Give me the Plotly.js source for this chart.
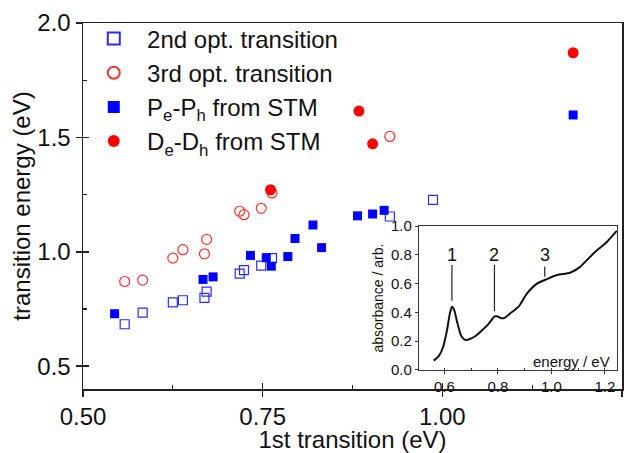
<!DOCTYPE html>
<html>
<head>
<meta charset="utf-8">
<script src="https://cdn.plot.ly/plotly-3.0.1.min.js"></script>
<style>html,body{margin:0;padding:0;background:#fff;}</style>
</head>
<body>
<div id="chart" style="width:641px;height:453px;"></div>
<script>
// ---- main panel data (eV) ----
const opt2X = [0.558,0.583,0.625,0.639,0.669,0.672,0.718,0.724,0.748,0.763,0.927,0.987];
const opt2Y = [0.683,0.734,0.779,0.788,0.798,0.826,0.904,0.920,0.939,0.972,1.154,1.227];
const opt3X = [0.558,0.583,0.625,0.639,0.669,0.672,0.718,0.724,0.748,0.763,0.927];
const opt3Y = [0.870,0.876,0.972,1.009,0.991,1.054,1.177,1.162,1.190,1.257,1.504];
const stmPX = [0.544,0.667,0.681,0.733,0.755,0.762,0.785,0.795,0.820,0.832,0.882,0.903,0.919,1.182];
const stmPY = [0.729,0.879,0.890,0.984,0.974,0.937,0.979,1.058,1.117,1.018,1.157,1.165,1.181,1.598];
const stmDX = [0.761,0.884,0.903,1.182];
const stmDY = [1.271,1.615,1.472,1.870];
const seriesNames = ['2nd opt. transition','3rd opt. transition','P<sub>e</sub>-P<sub>h</sub> from STM','D<sub>e</sub>-D<sub>h</sub> from STM'];

// ---- inset data ----
const insetE = [0.560,0.580,0.595,0.610,0.620,0.628,0.636,0.648,0.662,0.678,0.695,0.716,0.740,0.760,0.775,0.787,0.800,0.812,0.825,0.846,0.877,0.909,0.946,0.983,1.021,1.070,1.107,1.157,1.207,1.244];
const insetA = [0.065,0.10,0.16,0.28,0.39,0.44,0.42,0.33,0.24,0.208,0.215,0.236,0.275,0.31,0.345,0.372,0.372,0.360,0.362,0.394,0.44,0.532,0.60,0.632,0.66,0.676,0.717,0.81,0.89,0.967];
const peakLabels = ['1','2','3'];
const peakE = [0.628,0.787,0.975];
const peakTop = [0.729,0.729,0.72];
const peakBottom = [0.481,0.41,0.648];
const peakTextY = 0.80;

const FONT = 'Liberation Sans, Arial, Helvetica, sans-serif';
const nb = '\u00a0\u00a0';

const traces = [
  {x: opt2X, y: opt2Y, name: nb + seriesNames[0], type: 'scatter', mode: 'markers',
   marker: {symbol: 'square-open', size: 9, color: '#2a2aff', line: {width: 1.2, color: '#2a2aff'}}},
  {x: opt3X, y: opt3Y, name: nb + seriesNames[1], type: 'scatter', mode: 'markers',
   marker: {symbol: 'circle-open', size: 10, color: '#ff3030', line: {width: 1.2, color: '#ff3030'}}},
  {x: stmPX, y: stmPY, name: nb + seriesNames[2], type: 'scatter', mode: 'markers',
   marker: {symbol: 'square', size: 9, color: '#0000ff'}},
  {x: stmDX, y: stmDY, name: nb + seriesNames[3], type: 'scatter', mode: 'markers',
   marker: {symbol: 'circle', size: 11, color: '#ff0000'}},
  {x: [null], y: [null], xaxis: 'x2', yaxis: 'y2', showlegend: false, hoverinfo: 'skip', mode: 'markers'},
  {x: insetE, y: insetA, xaxis: 'x3', yaxis: 'y3', type: 'scatter', mode: 'lines', showlegend: false,
   line: {color: '#111', width: 2, shape: 'spline', smoothing: 0.6}}
];

const shapes = peakE.map((e, i) => ({
  type: 'line', xref: 'x3', yref: 'y3', x0: e, x1: e, y0: peakBottom[i], y1: peakTop[i],
  line: {color: '#222', width: 1.2}
}));

const annotations = peakE.map((e, i) => ({
  xref: 'x3', yref: 'y3', x: e, y: peakTextY, text: peakLabels[i], showarrow: false,
  font: {family: FONT, size: 18, color: '#111'}, xanchor: 'center', yanchor: 'middle'
}));
annotations.push({xref: 'x3', yref: 'y3', x: 1.225, y: 0.06, text: 'energy / eV', showarrow: false,
  xanchor: 'right', yanchor: 'middle', font: {family: FONT, size: 15, color: '#111'}});

const axCommon = {showgrid: false, zeroline: false, showline: true, linecolor: '#222', linewidth: 1.5,
  mirror: true, tickcolor: '#222', tickwidth: 1.5};

const layout = {
  width: 641, height: 453,
  margin: {l: 83, r: 19, t: 23, b: 64},
  paper_bgcolor: '#fff', plot_bgcolor: '#fff',
  font: {family: FONT, color: '#111'},
  showlegend: true,
  legend: {x: 0.02, y: 1.018, xanchor: 'left', yanchor: 'top', font: {family: FONT, size: 24, color: '#111'},
    bgcolor: 'rgba(0,0,0,0)', borderwidth: 0, tracegroupgap: 0, itemsizing: 'constant'},
  xaxis: Object.assign({}, axCommon, {range: [0.5, 1.25], tick0: 0.5, dtick: 0.25, tickformat: '.2f',
    ticks: 'outside', ticklen: 6, tickfont: {family: FONT, size: 24, color: '#111'},
    title: {text: '1st transition (eV)', font: {family: FONT, size: 24, color: '#111'}, standoff: 4}}),
  yaxis: Object.assign({}, axCommon, {range: [0.4, 2.0], tick0: 0.5, dtick: 0.5, tickformat: '.1f',
    ticks: 'outside', ticklen: 6, tickfont: {family: FONT, size: 24, color: '#111'},
    title: {text: 'transition energy (eV)', font: {family: FONT, size: 24, color: '#111'}, standoff: 0}}),
  xaxis2: {overlaying: 'x', anchor: 'y', range: [0.5, 1.25], tick0: 0.5, dtick: 0.25, ticks: 'inside', ticklen: 6,
    tickwidth: 1.5, tickcolor: '#222', showticklabels: false, showgrid: false, zeroline: false, showline: false,
    minor: {ticks: 'inside', ticklen: 4, tickwidth: 1.2, tickcolor: '#222', tick0: 0.5, dtick: 0.125, showgrid: false}},
  yaxis2: {overlaying: 'y', anchor: 'x', side: 'left', range: [0.4, 2.0], tick0: 0.5, dtick: 0.5, ticks: 'inside', ticklen: 6,
    tickwidth: 1.5, tickcolor: '#222', showticklabels: false, showgrid: false, zeroline: false, showline: false,
    minor: {ticks: 'inside', ticklen: 4, tickwidth: 1.2, tickcolor: '#222', tick0: 0.5, dtick: 0.25, showgrid: false}},
  xaxis3: {domain: [0.6234, 0.9907], anchor: 'y3', range: [0.505, 1.245], tick0: 0.6, dtick: 0.2, tickformat: '.1f',
    showgrid: false, zeroline: false, showline: true, mirror: true, linecolor: '#333', linewidth: 1.2,
    ticks: 'outside', ticklen: 3, tickwidth: 1, tickcolor: '#333', tickfont: {family: FONT, size: 15, color: '#111'},
    minor: {ticks: 'inside', ticklen: 2, tick0: 0.6, dtick: 0.1, tickcolor: '#333', showgrid: false}},
  yaxis3: {domain: [0.052, 0.445], anchor: 'x3', range: [0, 1], tick0: 0, dtick: 0.2, tickformat: '.1f',
    showgrid: false, zeroline: false, showline: true, mirror: true, linecolor: '#333', linewidth: 1.2,
    ticks: 'outside', ticklen: 3, tickwidth: 1, tickcolor: '#333', tickfont: {family: FONT, size: 15, color: '#111'},
    title: {text: 'absorbance / arb.', font: {family: FONT, size: 14, color: '#111'}, standoff: 4}},
  shapes: shapes,
  annotations: annotations
};

Plotly.newPlot('chart', traces, layout, {displayModeBar: false, staticPlot: true});
</script>
</body>
</html>
